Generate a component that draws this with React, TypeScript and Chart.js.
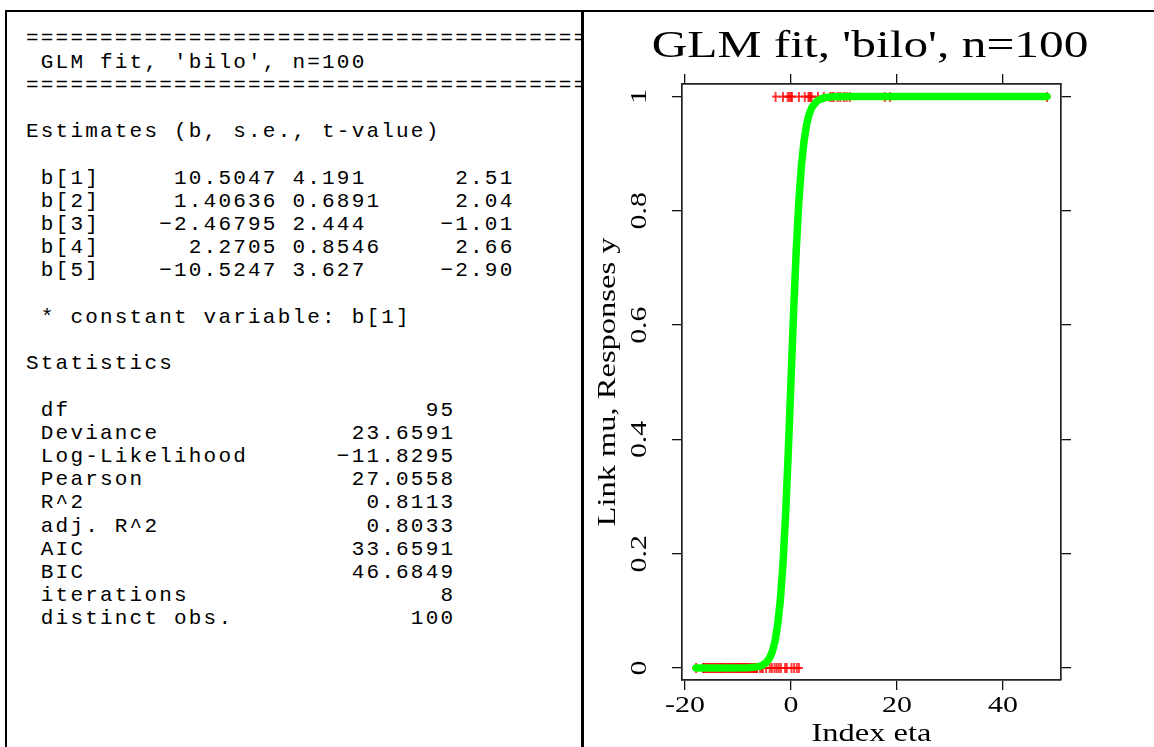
import React, { useEffect, useRef } from "react";
import { Chart, registerables } from "chart.js";

Chart.register(...registerables);

// ---- left panel text data ----
const reportTitle = "GLM fit, 'bilo', n=100";
const estNames = ["b[1]", "b[2]", "b[3]", "b[4]", "b[5]"];
const estValues = ["10.5047", "1.40636", "\u22122.46795", "2.2705", "\u221210.5247"];
const estSE = ["4.191", "0.6891", "2.444", "0.8546", "3.627"];
const estT = ["2.51", "2.04", "\u22121.01", "2.66", "\u22122.90"];
const statNames = ["df", "Deviance", "Log-Likelihood", "Pearson", "R^2", "adj. R^2", "AIC", "BIC", "iterations", "distinct obs."];
const statValues = ["95", "23.6591", "\u221211.8295", "27.0558", "0.8113", "0.8033", "33.6591", "46.6849", "8", "100"];

// ---- chart data ----
const xTicks = [-20, 0, 20, 40];
const yTicks = [0, 0.2, 0.4, 0.6, 0.8, 1];
const etaZero = [
  -17.9, -16.6, -16.45, -16.3, -16.0, -15.8, -15.65, -15.5, -15.2, -15.0,
  -14.85, -14.7, -14.4, -14.2, -14.05, -13.9, -13.7, -13.4, -13.25, -13.1,
  -12.9, -12.75, -12.6, -12.4, -12.1, -11.9, -11.75, -11.6, -11.4, -11.25,
  -11.1, -10.9, -10.6, -10.45, -10.3, -10.1, -9.95, -9.8, -9.6, -9.4,
  -9.25, -9.1, -8.9, -8.7, -8.55, -8.4, -8.2, -8.0, -7.8, -7.65,
  -7.5, -7.3, -7.1, -6.95, -6.9, -6.7, -6.55, -6.5, -6.4, -5.8,
  -5.5, -5.3, -4.7, -4.0, -3.6, -3.1, -2.7, -2.3, -1.9, -1.1,
  -0.8, 0.1, 0.6, 1.1, 1.5,
];
const etaOne = [
  -2.9, -1.5, -0.6, -0.3, 0.0, 0.2, 1.5, 2.6, 3.3, 3.5, 3.7, 3.9, 5.1,
  6.2, 7.4, 7.8, 8.1, 8.8, 9.3, 10.0, 10.5, 11.1, 17.7, 18.7, 48.3,
];
const curveEta = [
  -17.9, -12, -8, -6.4, -5.5, -4.7, -4.0, -3.5, -3.0, -2.5, -2.0, -1.5, -1.0, -0.5,
  0.0, 0.5, 1.0, 1.5, 2.0, 2.5, 3.0, 3.5, 4.0, 5.0, 6.2, 8.0, 11.1, 18.7, 48.3,
];
const curveMu = [
  0, 0, 0.0003, 0.002, 0.004, 0.009, 0.018, 0.029, 0.047, 0.076, 0.119, 0.182, 0.269, 0.378,
  0.5, 0.622, 0.731, 0.818, 0.881, 0.924, 0.953, 0.971, 0.982, 0.993, 0.998, 0.9997, 1, 1, 1,
];

const X_MIN = -20.55;
const X_MAX = 50.95;
const Y_MIN = -0.021;
const Y_MAX = 1.022;

// layout (screen px)
const CANVAS_LEFT = 586;
const CANVAS_TOP = 12;
const CW = 568;
const CH = 735;
const TEXT_STRETCH = 1.3; // the reference font is wide

function buildLines(): string[] {
  const eq = "=".repeat(48);
  const lines: string[] = [];
  lines.push(eq);
  lines.push(" " + reportTitle);
  lines.push(eq);
  lines.push("");
  lines.push("Estimates (b, s.e., t-value)");
  lines.push("");
  for (let i = 0; i < estNames.length; i++) {
    lines.push(
      (" " + estNames[i]).padEnd(5) +
        estValues[i].padStart(12) +
        " " +
        estSE[i].padEnd(9) +
        estT[i].padStart(6)
    );
  }
  lines.push("");
  lines.push(" * constant variable: " + estNames[0]);
  lines.push("");
  lines.push("Statistics");
  lines.push("");
  for (let i = 0; i < statNames.length; i++) {
    lines.push((" " + statNames[i]).padEnd(17) + statValues[i].padStart(12));
  }
  return lines;
}

export default function App() {
  const ref = useRef<HTMLCanvasElement>(null);

  useEffect(() => {
    const canvas = ref.current;
    if (!canvas) return;
    const ctx = canvas.getContext("2d") as any;
    // wide text: stretch every label along its own direction
    const origFill = ctx.fillText.bind(ctx);
    const origMeasure = ctx.measureText.bind(ctx);
    ctx.fillText = (text: string, x: number, y: number) => {
      ctx.save();
      ctx.translate(x, y);
      ctx.scale(TEXT_STRETCH, 1);
      origFill(text, 0, 0);
      ctx.restore();
    };
    ctx.measureText = (text: string) => {
      const m = origMeasure(text);
      return {
        width: m.width * TEXT_STRETCH,
        actualBoundingBoxAscent: m.actualBoundingBoxAscent,
        actualBoundingBoxDescent: m.actualBoundingBoxDescent,
        actualBoundingBoxLeft: m.actualBoundingBoxLeft * TEXT_STRETCH,
        actualBoundingBoxRight: m.actualBoundingBoxRight * TEXT_STRETCH,
      };
    };

    const spr = document.createElement("canvas");
    spr.width = 8;
    spr.height = 10;
    const sc = spr.getContext("2d");
    if (sc) {
      sc.fillStyle = "#ff0000";
      sc.fillRect(0, 4.25, 8, 1.5);
      sc.fillRect(3.25, 0, 1.5, 10);
    }
    const serif = "'Liberation Serif', 'Times New Roman', serif";
    const chartLeft = 682 - CANVAS_LEFT;
    const chartRight = 1061 - CANVAS_LEFT;
    const chartTop = 84 - CANVAS_TOP;
    const chartBottom = 680 - CANVAS_TOP;
    const titlePadTop = 16.5;
    const titlePadBottom = 2;
    const titleSize = 38;
    const x2Height = chartTop - (titlePadTop + titleSize + titlePadBottom);

    const grid = { drawOnChartArea: false, drawTicks: true, tickLength: 10, color: "#111", lineWidth: 1.3 };
    const border = { display: true, color: "#222", width: 1.7 };

    const chart = new Chart(canvas, {
      type: "line",
      data: {
        datasets: [
          {
            label: "mu",
            data: curveEta.map((x, i) => ({ x, y: curveMu[i] })),
            borderColor: "#00ff00",
            backgroundColor: "#00ff00",
            borderWidth: 7.5,
            pointRadius: 0,
            tension: 0,
            fill: false,
            borderCapStyle: "round",
            borderJoinStyle: "round",
            order: 0,
          },
          {
            label: "y",
            data: [
              ...etaZero.map((x) => ({ x, y: 0 })),
              ...etaOne.map((x) => ({ x, y: 1 })),
            ],
            showLine: false,
            pointStyle: spr as any,
            pointRadius: 5,
            borderColor: "#ff0000",
            backgroundColor: "#ff0000",
            order: 1,
          },
        ],
      },
      options: {
        responsive: false,
        maintainAspectRatio: false,
        animation: false,
        layout: { padding: 0 },
        plugins: {
          legend: { display: false },
          tooltip: { enabled: false },
          title: {
            display: true,
            text: reportTitle,
            color: "#000",
            font: { family: serif, size: titleSize, weight: "normal", lineHeight: 1 },
            padding: { top: titlePadTop, bottom: titlePadBottom },
          },
        },
        scales: {
          x: {
            type: "linear",
            position: "bottom",
            min: X_MIN,
            max: X_MAX,
            afterBuildTicks: (s: any) => {
              s.ticks = xTicks.map((v) => ({ value: v }));
            },
            afterFit: (s: any) => {
              s.height = CH - chartBottom;
            },
            ticks: {
              callback: (v: any) => String(v),
              color: "#000",
              font: { family: serif, size: 23, lineHeight: 1 },
              padding: 4.7,
              maxRotation: 0,
              minRotation: 0,
            },
            grid,
            border,
            title: {
              display: true,
              text: "Index eta",
              color: "#000",
              font: { family: serif, size: 25, lineHeight: 1 },
              padding: { top: 0, bottom: 0.3 },
            },
          },
          x2: {
            type: "linear",
            position: "top",
            min: X_MIN,
            max: X_MAX,
            afterBuildTicks: (s: any) => {
              s.ticks = xTicks.map((v) => ({ value: v }));
            },
            afterFit: (s: any) => {
              s.height = x2Height;
            },
            ticks: { display: false },
            grid,
            border,
          },
          y: {
            type: "linear",
            position: "left",
            min: Y_MIN,
            max: Y_MAX,
            afterBuildTicks: (s: any) => {
              s.ticks = yTicks.map((v) => ({ value: v }));
            },
            afterFit: (s: any) => {
              s.width = chartLeft;
            },
            ticks: {
              callback: (v: any) => String(v),
              color: "#000",
              font: { family: serif, size: 23, lineHeight: 1 },
              minRotation: 90,
              maxRotation: 90,
              crossAlign: "center",
              padding: 13.3,
            },
            grid,
            border,
            title: {
              display: true,
              text: "Link mu, Responses y",
              color: "#000",
              font: { family: serif, size: 25, lineHeight: 1 },
              padding: { top: 9.5, bottom: 0 },
            },
          },
          y2: {
            type: "linear",
            position: "right",
            min: Y_MIN,
            max: Y_MAX,
            afterBuildTicks: (s: any) => {
              s.ticks = yTicks.map((v) => ({ value: v }));
            },
            afterFit: (s: any) => {
              s.width = CW - chartRight;
            },
            ticks: { display: false },
            grid,
            border,
          },
        },
      } as any,
    });
    return () => chart.destroy();
  }, []);

  const lines = buildLines();

  return (
    <div
      style={{
        position: "fixed",
        left: 0,
        top: 0,
        width: 1154,
        height: 747,
        background: "#fff",
        overflow: "hidden",
      }}
    >
      {/* outer frame */}
      <div style={{ position: "absolute", left: 5, top: 10, width: 1149, height: 2, background: "#000" }} />
      <div style={{ position: "absolute", left: 5, top: 10, width: 2, height: 737, background: "#000" }} />
      <div style={{ position: "absolute", left: 581, top: 10, width: 3, height: 737, background: "#000" }} />
      {/* left text panel */}
      <div style={{ position: "absolute", left: 7, top: 12, width: 574, height: 735, overflow: "hidden" }}>
        <pre
          style={{
            position: "absolute",
            left: 19,
            top: 15.4,
            margin: 0,
            fontFamily: "'Liberation Mono', 'Courier New', monospace",
            fontSize: 21,
            letterSpacing: "2.2px",
            lineHeight: "23.2px",
            color: "#000",
            whiteSpace: "pre",
          }}
        >
          {lines.join("\n")}
        </pre>
      </div>
      {/* chart */}
      <canvas
        ref={ref}
        width={CW}
        height={CH}
        style={{
          position: "absolute",
          left: CANVAS_LEFT,
          top: CANVAS_TOP,
          width: CW,
          height: CH,
        }}
      />
    </div>
  );
}
